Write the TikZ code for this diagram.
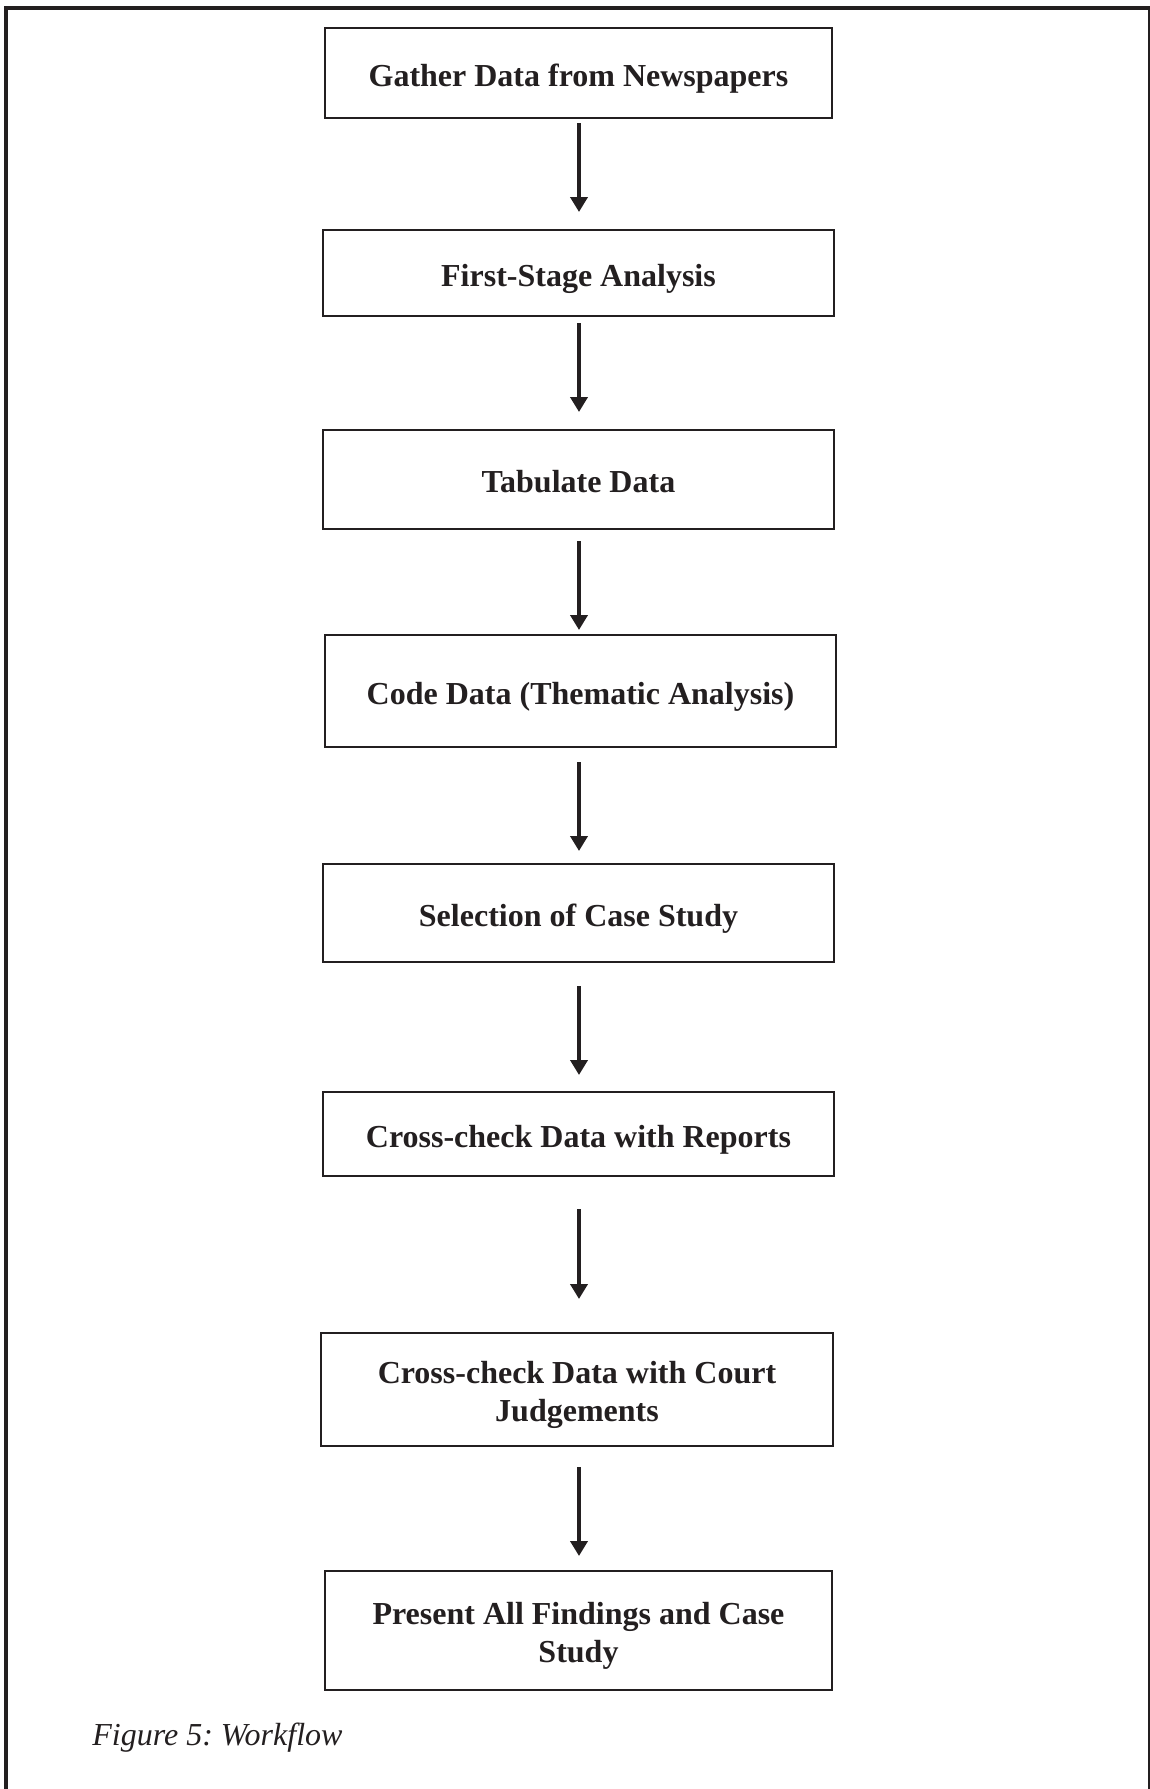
\documentclass[tikz,border=0pt]{standalone}
\usepackage{fontspec}
\setmainfont{Liberation Serif}
\usetikzlibrary{arrows.meta}
\definecolor{ink}{RGB}{35,31,32}
\begin{document}
\begin{tikzpicture}[x=0.5pt,y=-0.5pt,
  stepbox/.style={draw=ink, line width=1pt, fill=white, rectangle, inner sep=0pt},
  steptext/.style={anchor=base, inner sep=0pt, text=ink,
    font=\bfseries\fontsize{16}{18.75}\selectfont},
  flowarrow/.style={draw=ink, line width=2pt,
    -{Triangle[width=8.5pt,length=7.5pt]}},
  frameline/.style={draw=ink, line width=2pt}]
\useasboundingbox (0,0) rectangle (1150,1789);
% outer frame (open at the bottom)
\draw[frameline] (6,1800) -- (6,8) -- (1150,8) -- (1150,1800);

% axis that all connectors follow
\coordinate (axis) at (579,0);

% workflow steps: frames
\node[stepbox, minimum width=253.5pt, minimum height=45pt]   (b1) at (578.5,73)     {};
\node[stepbox, minimum width=255.5pt, minimum height=43pt]   (b2) at (578.5,273)    {};
\node[stepbox, minimum width=255.5pt, minimum height=49.5pt] (b3) at (578.5,479.5)  {};
\node[stepbox, minimum width=255.5pt, minimum height=56pt]   (b4) at (580.5,691)    {};
\node[stepbox, minimum width=255.5pt, minimum height=49pt]   (b5) at (578.5,913)    {};
\node[stepbox, minimum width=255.5pt, minimum height=42pt]   (b6) at (578.5,1134)   {};
\node[stepbox, minimum width=256pt,   minimum height=56.5pt] (b7) at (577,1389.5)   {};
\node[stepbox, minimum width=253.5pt, minimum height=59.5pt] (b8) at (578.5,1630.5) {};

% workflow steps: labels, placed on their baselines
\node[steptext] (t1) at (578.5,86.1)   {Gather Data from Newspapers};
\node[steptext] (t2) at (578.5,286.1)  {First-Stage Analysis};
\node[steptext] (t3) at (578.5,492.6)  {Tabulate Data};
\node[steptext] (t4) at (580.5,704.1)  {Code Data (Thematic Analysis)};
\node[steptext] (t5) at (578.5,926.1)  {Selection of Case Study};
\node[steptext] (t6) at (578.5,1147.1) {Cross-check Data with Reports};
\node[steptext] (t7) at (577,1383.9)
  {\begin{tabular}[t]{@{}c@{}}Cross-check Data with Court\\Judgements\end{tabular}};
\node[steptext] (t8) at (578.5,1624.9)
  {\begin{tabular}[t]{@{}c@{}}Present All Findings and Case\\Study\end{tabular}};

% connectors
\draw[flowarrow, shorten <=2pt,  shorten >=8.5pt] (b1.south -| axis) -- (b2.north -| axis);
\draw[flowarrow, shorten <=3pt,  shorten >=8.5pt] (b2.south -| axis) -- (b3.north -| axis);
\draw[flowarrow, shorten <=5.5pt,shorten >=2pt]   (b3.south -| axis) -- (b4.north -| axis);
\draw[flowarrow, shorten <=7pt,  shorten >=6pt]   (b4.south -| axis) -- (b5.north -| axis);
\draw[flowarrow, shorten <=11.5pt,shorten >=8pt]  (b5.south -| axis) -- (b6.north -| axis);
\draw[flowarrow, shorten <=16pt, shorten >=16.5pt](b6.south -| axis) -- (b7.north -| axis);
\draw[flowarrow, shorten <=10pt, shorten >=7pt]   (b7.south -| axis) -- (b8.north -| axis);

% caption
\node[anchor=base west, inner sep=0pt, text=ink, font=\itshape\fontsize{16}{19}\selectfont]
  (cap) at (92,1745) {\frenchspacing Figure 5: Workflow};
\end{tikzpicture}
\end{document}
